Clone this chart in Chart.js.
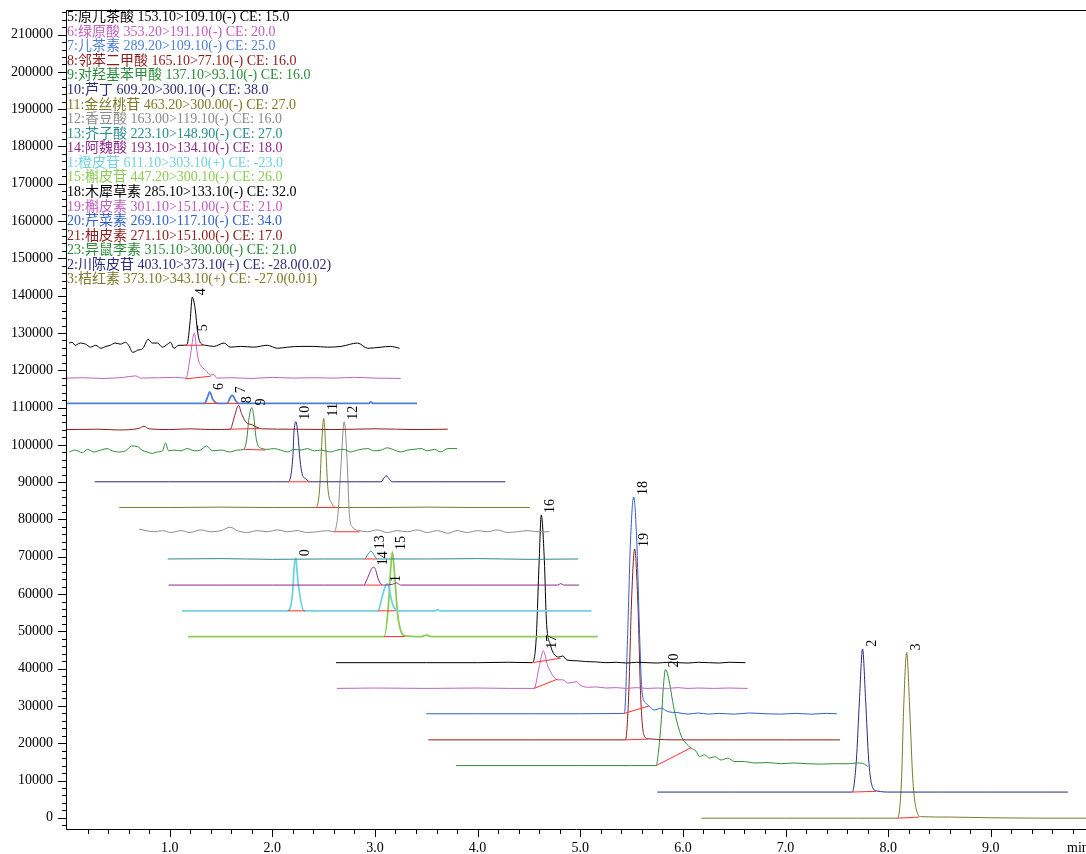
<!DOCTYPE html>
<html>
<head>
<meta charset="utf-8">
<script src="https://cdn.jsdelivr.net/npm/chart.js@4.4.1/dist/chart.umd.min.js"></script>
<style>
  html, body { margin: 0; padding: 0; background: #fff; }
  #chart { display: block; }
</style>
</head>
<body>
<canvas id="chart" width="1086" height="854"></canvas>
<script>
// retention time (min), intensity, one array per MRM channel
const trace1 = [[0.02,127300],[0.05,127500],[0.08,126700],[0.13,127300],[0.18,127000],[0.23,126200],[0.28,126700],[0.33,125900],[0.38,126400],[0.42,126700],[0.47,127300],[0.52,127000],[0.57,127500],[0.60,126700],[0.64,124800],[0.69,125400],[0.74,125900],[0.79,128300],[0.83,127300],[0.88,127300],[0.93,126200],[0.98,127000],[1.01,127500],[1.04,125900],[1.09,126700],[1.14,126700],[1.17,127000],[1.20,133400],[1.22,139600],[1.25,136100],[1.27,130700],[1.30,127300],[1.35,126700],[1.43,126400],[1.53,127300],[1.59,126200],[1.69,126400],[1.82,126200],[1.95,126700],[2.05,125900],[2.15,126200],[2.28,126400],[2.40,126400],[2.54,126200],[2.67,126400],[2.83,127300],[2.93,125900],[3.06,126200],[3.15,126400],[3.24,125900]];
const trace2 = [[0.00,117900],[0.15,118000],[0.35,117800],[0.55,118100],[0.67,118500],[0.72,117900],[0.90,118000],[1.05,118100],[1.16,117900],[1.20,123600],[1.24,129900],[1.26,126300],[1.28,122700],[1.30,121400],[1.35,120000],[1.40,118700],[1.43,118900],[1.46,117900],[1.60,118000],[1.80,117800],[2.00,118100],[2.20,117900],[2.40,118000],[2.60,117900],[2.80,118100],[3.00,117900],[3.25,117800]];
const trace3 = [[0.00,111100],[1.34,111100],[1.37,112900],[1.39,114200],[1.42,112200],[1.45,111300],[1.48,111100],[1.56,111100],[1.59,112700],[1.61,113300],[1.64,112000],[1.67,111100],[2.00,111100],[2.50,111150],[2.94,111100],[2.96,111500],[2.98,111100],[3.41,111100]];
const trace4 = [[0.00,104100],[0.30,104200],[0.50,104000],[0.70,104400],[0.75,105000],[0.80,104300],[1.00,104100],[1.20,104300],[1.40,104100],[1.59,104200],[1.63,107500],[1.67,110600],[1.70,108400],[1.74,106200],[1.81,105300],[1.85,104700],[1.90,104300],[2.20,104200],[2.60,104100],[3.00,104300],[3.40,104100],[3.71,104200]];
const trace5 = [[0.02,98100],[0.08,98600],[0.15,97900],[0.20,98800],[0.26,98100],[0.33,98600],[0.39,99000],[0.44,98400],[0.49,98100],[0.57,98400],[0.63,99700],[0.69,99500],[0.73,98600],[0.78,98100],[0.83,97700],[0.88,98100],[0.93,98400],[0.96,100500],[0.99,98400],[1.04,98600],[1.11,98400],[1.17,99000],[1.24,98400],[1.30,98600],[1.36,99700],[1.42,98400],[1.50,98600],[1.59,98100],[1.66,98600],[1.72,98800],[1.75,101300],[1.77,106600],[1.80,110000],[1.82,107500],[1.84,102200],[1.86,99900],[1.90,99000],[1.95,98800],[2.02,99000],[2.08,98600],[2.15,98100],[2.21,98800],[2.28,98600],[2.34,99000],[2.41,98400],[2.47,98600],[2.57,98100],[2.63,98600],[2.70,98800],[2.76,98100],[2.83,98600],[2.93,99000],[2.99,98400],[3.06,98600],[3.12,99200],[3.19,98600],[3.25,98100],[3.32,98600],[3.38,98800],[3.45,99000],[3.51,98400],[3.58,98800],[3.64,98100],[3.71,99000],[3.80,99000]];
const trace6 = [[0.27,90100],[1.00,90100],[1.50,90100],[2.00,90100],[2.15,90100],[2.20,96800],[2.21,103100],[2.23,106200],[2.25,102600],[2.27,95900],[2.29,92300],[2.33,90800],[2.37,90100],[2.80,90100],[3.06,90100],[3.09,91200],[3.11,91700],[3.14,90800],[3.17,90100],[3.60,90100],[4.27,90100]];
const trace7 = [[0.51,83200],[1.00,83200],[1.50,83300],[2.00,83200],[2.42,83200],[2.46,87900],[2.48,99500],[2.50,107100],[2.52,99500],[2.54,88800],[2.58,84300],[2.63,83200],[3.00,83200],[3.50,83300],[4.00,83200],[4.51,83200]];
const trace8 = [[0.70,77400],[0.77,77000],[0.85,76700],[0.93,77000],[1.01,76500],[1.11,77000],[1.20,76500],[1.30,77200],[1.40,76700],[1.50,77000],[1.59,77900],[1.66,77000],[1.76,76500],[1.85,77000],[1.95,76700],[2.05,77200],[2.15,76700],[2.24,77000],[2.34,76500],[2.44,76700],[2.54,77000],[2.60,76700],[2.64,81600],[2.67,95000],[2.70,106200],[2.73,95000],[2.75,81600],[2.78,78000],[2.85,77000],[2.93,76700],[3.02,77200],[3.12,76500],[3.22,77000],[3.32,76700],[3.41,77200],[3.51,76500],[3.61,77000],[3.71,76300],[3.80,77000],[3.90,76500],[4.00,77000],[4.10,76700],[4.19,77200],[4.29,76500],[4.39,76700],[4.49,77000],[4.58,76700],[4.70,76700]];
const trace9 = [[0.98,69400],[1.50,69500],[2.00,69300],[2.50,69400],[2.90,69400],[2.93,70600],[2.96,71500],[2.99,70500],[3.02,69400],[3.50,69400],[4.00,69500],[4.50,69300],[4.98,69400]];
const trace10 = [[0.99,62400],[1.50,62400],[2.00,62400],[2.50,62400],[2.89,62400],[2.92,63800],[2.94,65100],[2.97,66900],[2.99,67200],[3.01,66200],[3.02,65100],[3.04,63500],[3.06,62600],[3.08,62400],[3.17,62600],[3.21,63000],[3.25,62400],[4.00,62400],[4.78,62400],[4.81,62800],[4.84,62400],[4.99,62400]];
const trace11 = [[1.12,55500],[1.60,55500],[2.00,55500],[2.15,55500],[2.20,61100],[2.21,66400],[2.23,69600],[2.24,66400],[2.26,61100],[2.31,55500],[2.60,55500],[3.03,55500],[3.07,59300],[3.10,62000],[3.12,62700],[3.14,61500],[3.16,58400],[3.19,56200],[3.22,55500],[3.59,55500],[3.61,55800],[3.63,55500],[4.20,55500],[5.11,55500]];
const trace12 = [[1.18,48600],[1.60,48600],[2.00,48600],[2.50,48600],[3.09,48600],[3.13,56600],[3.15,65600],[3.17,71300],[3.19,65600],[3.22,54800],[3.25,50200],[3.29,48800],[3.45,48600],[3.50,49000],[3.55,48600],[4.00,48600],[4.50,48600],[5.17,48600]];
const trace13 = [[2.62,41600],[3.00,41600],[3.50,41600],[4.00,41600],[4.30,41700],[4.53,41600],[4.57,47700],[4.60,69100],[4.62,81200],[4.65,69100],[4.67,53000],[4.71,46300],[4.74,44100],[4.79,43100],[4.83,43400],[4.87,42300],[4.97,42100],[5.05,41900],[5.15,41800],[5.25,41600],[5.35,41700],[5.45,41500],[5.55,41700],[5.65,41600],[5.75,41500],[5.85,41700],[5.95,41600],[6.05,41500],[6.15,41700],[6.25,41600],[6.35,41500],[6.45,41700],[6.61,41600]];
const trace14 = [[2.63,34700],[3.00,34800],[3.50,34700],[4.00,34800],[4.30,34700],[4.55,34700],[4.60,40500],[4.64,44800],[4.68,41000],[4.73,38300],[4.78,37000],[4.83,37000],[4.88,36100],[4.96,36500],[5.01,35400],[5.08,35000],[5.15,35100],[5.25,34800],[5.35,34900],[5.45,34700],[5.55,34900],[5.65,34700],[5.75,34800],[5.85,34700],[5.95,34900],[6.05,34700],[6.15,34800],[6.30,34700],[6.45,34800],[6.63,34700]];
const trace15 = [[3.50,27900],[4.00,27900],[4.50,27900],[5.00,27900],[5.30,27950],[5.43,28000],[5.46,47700],[5.49,74500],[5.52,86000],[5.55,74500],[5.58,47700],[5.60,34300],[5.64,30700],[5.67,30000],[5.72,28900],[5.79,29400],[5.85,28500],[5.95,28200],[6.05,27800],[6.15,28100],[6.25,27800],[6.35,28000],[6.50,27800],[6.65,28100],[6.80,27900],[6.95,27800],[7.10,28000],[7.25,27800],[7.40,28000],[7.50,27900]];
const trace16 = [[3.52,20900],[4.50,20900],[5.44,20900],[5.47,31600],[5.50,58400],[5.53,72100],[5.56,58400],[5.59,31600],[5.62,22200],[5.66,21200],[6.00,20900],[6.50,20900],[7.00,20900],[7.53,20900]];
const trace17 = [[3.79,14000],[4.50,14000],[5.00,14000],[5.50,14000],[5.74,14000],[5.76,17300],[5.79,26300],[5.81,35200],[5.83,39800],[5.87,36100],[5.90,31200],[5.93,27100],[5.98,22200],[6.03,20000],[6.08,18700],[6.13,17800],[6.16,16400],[6.21,16900],[6.26,16000],[6.31,16400],[6.37,15500],[6.44,16000],[6.50,15100],[6.60,15100],[6.69,14700],[6.83,14800],[6.96,14500],[7.08,14700],[7.22,14500],[7.35,14400],[7.47,14500],[7.61,14500],[7.70,14700],[7.77,14400],[7.80,13700]];
const trace18 = [[5.75,6900],[6.50,6900],[7.20,6900],[7.65,6900],[7.69,15500],[7.72,31600],[7.75,45300],[7.78,31600],[7.81,15500],[7.85,8000],[7.89,7200],[8.03,6900],[8.50,6900],[9.00,6900],[9.50,6900],[9.75,6900]];
const trace19 = [[6.18,-100],[7.00,-100],[7.70,-100],[8.09,-100],[8.13,10200],[8.15,28900],[8.18,44300],[8.21,28900],[8.24,10200],[8.28,1600],[8.32,300],[8.60,200],[9.00,0],[9.50,-100],[9.94,-100]];

const traceColors = ['#000000', '#c060c0', '#4f7fd4', '#8b1c1c', '#2e8b3a', '#2b2b7a', '#7a7a28', '#8c8c8c', '#2a8c8c', '#8b2a8b', '#72d2e0', '#8ccc55', '#000000', '#c060c0', '#2f5fc8', '#8b1c1c', '#2e8b3a', '#2b2b7a', '#7a7a28'];

// integration baselines: [t start, value start, t end, value end]
const baselines = [
    [1.14,126700,1.33,126700], [1.15,117700,1.40,118400], [1.34,111100,1.48,111100], [1.56,111100,1.67,111100],
    [1.58,104200,1.90,104400], [1.72,98800,1.93,98600], [2.15,90100,2.37,90100], [2.42,83200,2.63,83200],
    [2.60,76700,2.85,76700], [2.90,69400,3.02,69400], [2.89,62400,3.07,62400], [2.15,55500,2.32,55500],
    [3.03,55500,3.20,55500], [3.09,48600,3.29,48600], [4.53,41600,4.81,42800], [4.55,34700,4.78,37200],
    [5.43,28000,5.67,30000], [5.44,20900,5.66,21100], [5.74,14000,6.08,18800], [7.65,6900,7.88,7100],
    [8.09,-100,8.30,200]
];

// peak number, apex time, apex intensity
const peakLabels = [
    ['4',1.22,139600], ['5',1.24,129900], ['6',1.39,114200], ['7',1.61,113300], ['8',1.67,110600],
    ['9',1.80,110000], ['10',2.23,106200], ['11',2.50,107100], ['12',2.70,106200], ['0',2.23,69600],
    ['13',2.96,71500], ['14',2.99,67200], ['15',3.17,71300], ['1',3.12,62700], ['16',4.62,81200],
    ['17',4.64,44800], ['18',5.52,86000], ['19',5.53,72100], ['20',5.83,39800], ['2',7.75,45300],
    ['3',8.18,44300]
];

const legendLines = [
    '5:原儿茶酸 153.10>109.10(-) CE: 15.0',
    '6:绿原酸 353.20>191.10(-) CE: 20.0',
    '7:儿茶素 289.20>109.10(-) CE: 25.0',
    '8:邻苯二甲酸 165.10>77.10(-) CE: 16.0',
    '9:对羟基苯甲酸 137.10>93.10(-) CE: 16.0',
    '10:芦丁 609.20>300.10(-) CE: 38.0',
    '11:金丝桃苷 463.20>300.00(-) CE: 27.0',
    '12:香豆酸 163.00>119.10(-) CE: 16.0',
    '13:芥子酸 223.10>148.90(-) CE: 27.0',
    '14:阿魏酸 193.10>134.10(-) CE: 18.0',
    '1:橙皮苷 611.10>303.10(+) CE: -23.0',
    '15:槲皮苷 447.20>300.10(-) CE: 26.0',
    '18:木犀草素 285.10>133.10(-) CE: 32.0',
    '19:槲皮素 301.10>151.00(-) CE: 21.0',
    '20:芹菜素 269.10>117.10(-) CE: 34.0',
    '21:柚皮素 271.10>151.00(-) CE: 17.0',
    '23:异鼠李素 315.10>300.00(-) CE: 21.0',
    '2:川陈皮苷 403.10>373.10(+) CE: -28.0(0.02)',
    '3:桔红素 373.10>343.10(+) CE: -27.0(0.01)'
];

// labelled axis ticks
const timeTicks = [1, 2, 3, 4, 5, 6, 7, 8, 9];
const intensityTicks = [0, 10000, 20000, 30000, 40000, 50000, 60000, 70000, 80000, 90000, 100000,
    110000, 120000, 130000, 140000, 150000, 160000, 170000, 180000, 190000, 200000, 210000];

const traces = [trace1, trace2, trace3, trace4, trace5, trace6, trace7, trace8, trace9, trace10,
    trace11, trace12, trace13, trace14, trace15, trace16, trace17, trace18, trace19];

const serif = '"Liberation Serif", "Times New Roman", "Noto Sans CJK SC", serif';
const X_MIN = -0.01, X_MAX = 9.927;
const Y_MIN = -3000, Y_MAX = 216600;

// minor/major tick marks, the top frame line and the "min" unit
const axisTicks = {
    id: 'axisTicks',
    afterDraw(chart) {
        const { ctx, chartArea, scales: { x, y } } = chart;
        ctx.save();
        ctx.strokeStyle = '#000';
        ctx.lineWidth = 1;
        ctx.beginPath();
        ctx.moveTo(chartArea.left, chartArea.top + 0.5);
        ctx.lineTo(chartArea.right, chartArea.top + 0.5);
        for (let i = -1; i <= 108; i++) {
            const v = i * 2000;
            if (v < Y_MIN || v > Y_MAX) continue;
            const py = Math.round(y.getPixelForValue(v)) + 0.5;
            const len = i % 5 === 0 ? 8 : 4;
            ctx.moveTo(chartArea.left - len, py);
            ctx.lineTo(chartArea.left, py);
        }
        for (let i = 1; i <= 49; i++) {
            const v = i * 0.2;
            if (v > X_MAX) break;
            const px = Math.round(x.getPixelForValue(v)) + 0.5;
            const len = i % 5 === 0 ? 8 : 5;
            ctx.moveTo(px, chartArea.bottom);
            ctx.lineTo(px, chartArea.bottom + len);
        }
        ctx.stroke();

        ctx.fillStyle = '#000';
        ctx.font = '14px ' + serif;
        ctx.textAlign = 'left';
        ctx.textBaseline = 'middle';
        ctx.fillText('min', 1067, 848);
        ctx.restore();
    }
};

// rotated peak numbers next to each apex
const peakTags = {
    id: 'peakTags',
    afterDatasetsDraw(chart) {
        const { ctx, scales: { x, y } } = chart;
        ctx.save();
        ctx.font = '14px ' + serif;
        ctx.fillStyle = '#000';
        ctx.textAlign = 'left';
        ctx.textBaseline = 'alphabetic';
        for (const [tag, t, v] of peakLabels) {
            ctx.save();
            ctx.translate(x.getPixelForValue(t) + 13, y.getPixelForValue(v) - 2);
            ctx.rotate(-Math.PI / 2);
            ctx.fillText(tag, 0, 0);
            ctx.restore();
        }
        ctx.restore();
    }
};

// channel list in the top-left corner
const channelList = {
    id: 'channelList',
    afterDraw(chart) {
        const { ctx, chartArea } = chart;
        ctx.save();
        ctx.font = '14px ' + serif;
        ctx.textAlign = 'left';
        ctx.textBaseline = 'middle';
        legendLines.forEach((line, i) => {
            ctx.fillStyle = traceColors[i % traceColors.length];
            ctx.fillText(line, chartArea.left + 1, 17.5 + i * 14.57);
        });
        ctx.restore();
    }
};

const datasets = [];
for (const [t1, v1, t2, v2] of baselines) {
    datasets.push({
        data: [[t1, v1], [t2, v2]],
        borderColor: '#ff3030',
        borderWidth: 1,
        pointRadius: 0,
        tension: 0
    });
}
traces.forEach((trace, i) => {
    const thick = i === 2 || i === 10 || i === 11;
    datasets.push({
        data: trace,
        borderColor: traceColors[i],
        borderWidth: thick ? 1.8 : 1,
        pointRadius: 0,
        cubicInterpolationMode: 'monotone'
    });
});

function noEdgePadding(s) {
    s.paddingTop = 0;
    s.paddingBottom = 0;
    s.paddingLeft = 0;
    s.paddingRight = 0;
}

new Chart(document.getElementById('chart'), {
    type: 'line',
    data: { datasets },
    options: {
        responsive: false,
        animation: false,
        devicePixelRatio: 1,
        layout: { padding: { top: 10, left: 0, right: 0, bottom: 0 } },
        plugins: { legend: { display: false }, tooltip: { enabled: false } },
        scales: {
            x: {
                type: 'linear',
                min: X_MIN,
                max: X_MAX,
                grid: { display: true, drawOnChartArea: false, drawTicks: false },
                border: { display: true, color: '#000', width: 1 },
                ticks: {
                    autoSkip: false,
                    maxRotation: 0,
                    padding: 11,
                    color: '#000',
                    font: { family: serif, size: 14 },
                    callback: v => Number(v).toFixed(1)
                },
                afterBuildTicks: s => { s.ticks = timeTicks.map(v => ({ value: v })); },
                afterFit: s => { s.height = 25; noEdgePadding(s); }
            },
            y: {
                type: 'linear',
                min: Y_MIN,
                max: Y_MAX,
                grid: { display: true, drawOnChartArea: false, drawTicks: false },
                border: { display: true, color: '#000', width: 1 },
                ticks: {
                    autoSkip: false,
                    padding: 13,
                    color: '#000',
                    font: { family: serif, size: 14 },
                    callback: v => String(v)
                },
                afterBuildTicks: s => { s.ticks = intensityTicks.map(v => ({ value: v })); },
                afterFit: s => { s.width = 66; noEdgePadding(s); }
            }
        }
    },
    plugins: [axisTicks, peakTags, channelList]
});
</script>
</body>
</html>
